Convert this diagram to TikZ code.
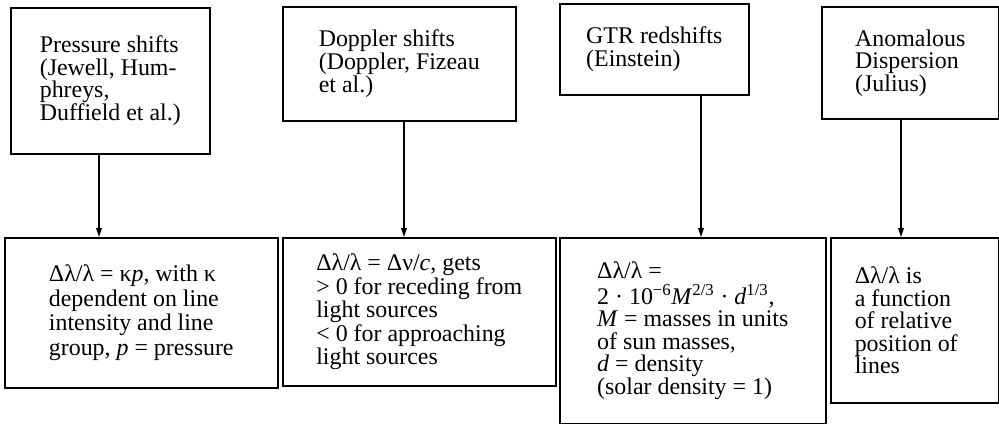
\documentclass[tikz,border=0pt]{standalone}
\usepackage{fontspec}
\setmainfont{Liberation Serif}
\usetikzlibrary{arrows.meta, positioning}

\tikzset{
  box/.style={draw, line width=1.1pt, align=flush left, anchor=north west, inner ysep=0pt},
  lead/.style={font=\fontsize{17}{#1}\selectfont},
  conn/.style={-{Triangle[length=2.2mm, width=1.4mm]}, line width=0.8pt},
}

\begin{document}
\begin{tikzpicture}
  \useasboundingbox (0,0) rectangle (24.975,-10.6);

  % upper row: kinds of shift
  \node[box, lead=16pt, minimum width=4.975cm, minimum height=3.65cm] (pres) at (0.25,-0.175)
    {Pressure shifts\\(Jewell, Hum-\\phreys,\\Duffield et al.)};
  \node[box, lead=16.5pt, minimum width=5.825cm, minimum height=2.85cm] (dopp) at (7.05,-0.15)
    {Doppler shifts\\(Doppler, Fizeau\\et al.)};
  \node[box, lead=16pt, minimum width=4.725cm, minimum height=2.275cm] (gtr) at (13.975,-0.075)
    {GTR redshifts\\(Einstein)};
  \node[box, lead=16pt, minimum width=4.425cm, minimum height=2.8cm] (anom) at (20.525,-0.15)
    {Anomalous\\Dispersion\\(Julius)};

  % lower row: relations
  \node[box, lead=17.5pt, minimum width=6.825cm, minimum height=3.75cm] (presrel) at (0.1,-5.925)
    {Δλ/λ = κ\textit{p}, with κ\\dependent on line\\intensity and line\\group, \textit{p} = pressure};
  \node[box, lead=16.7pt, minimum width=6.825cm, minimum height=3.7cm] (dopprel) at (7.05,-5.925)
    {Δλ/λ = Δν/\textit{c}, gets\\> 0 for receding from\\light sources\\< 0 for approaching\\light sources};
  \node[box, lead=16pt, minimum width=6.65cm, minimum height=4.65cm] (gtrrel) at (13.975,-5.925)
    {Δλ/λ =\\[2pt]2 · 10\textsuperscript{−6}\textit{M}\textsuperscript{2/3} · \textit{d}\textsuperscript{1/3},\\\textit{M} = masses in units\\of sun masses,\\\textit{d} = density\\(solar density = 1)};
  \node[box, lead=16pt, inner xsep=0.6cm, text width=3cm, minimum height=4.125cm] (anomrel) at (20.75,-5.925)
    {Δλ/λ is\\a function\\of relative\\position of\\lines};

  % connectors
  \coordinate (c1) at (2.475,0);
  \coordinate (c2) at (10.1,0);
  \coordinate (c3) at (17.525,0);
  \coordinate (c4) at (22.525,0);
  \draw[conn] (pres.south -| c1) -- (presrel.north -| c1);
  \draw[conn] (dopp.south -| c2) -- (dopprel.north -| c2);
  \draw[conn] (gtr.south -| c3) -- (gtrrel.north -| c3);
  \draw[conn] (anom.south -| c4) -- (anomrel.north -| c4);
\end{tikzpicture}
\end{document}
